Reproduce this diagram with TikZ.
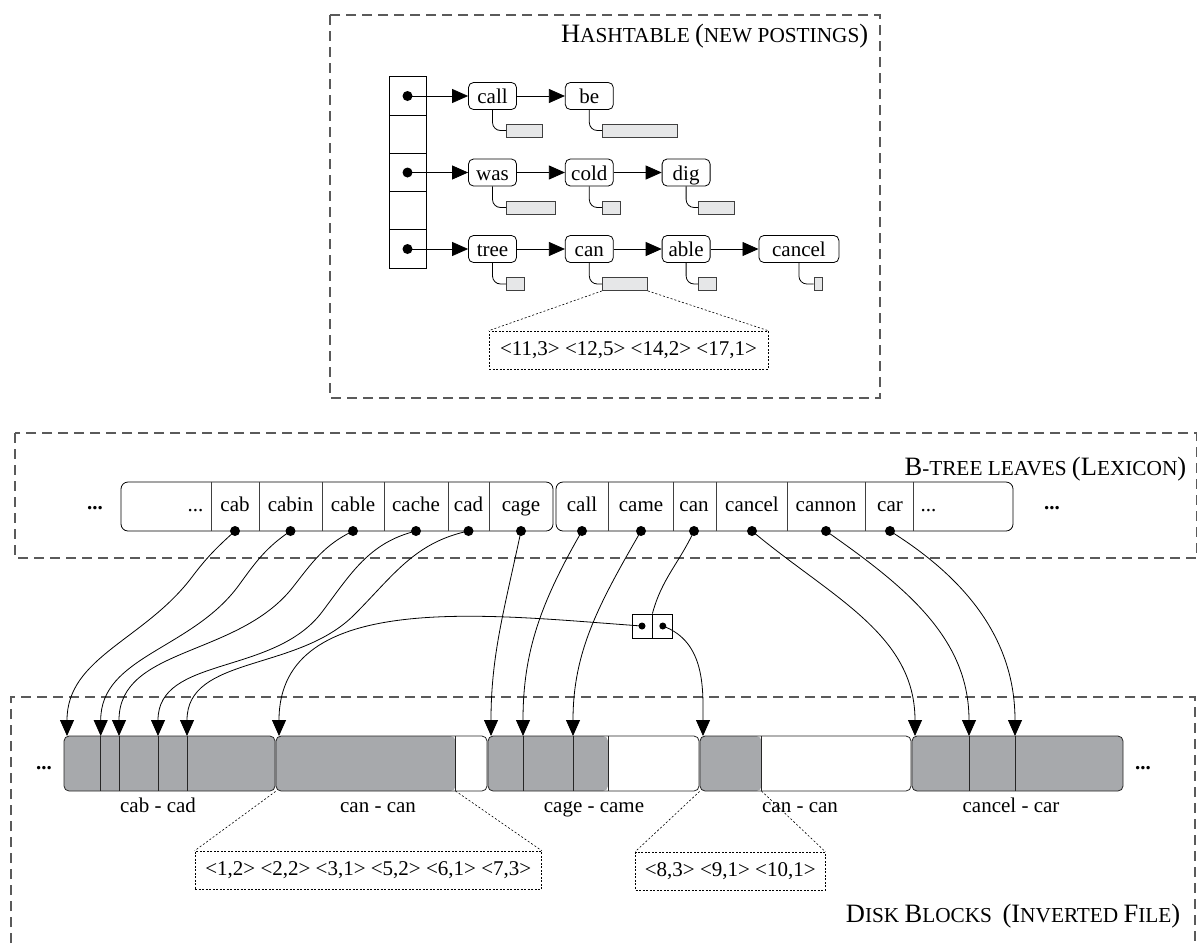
\documentclass[tikz,border=0pt]{standalone}
\usepackage{fontspec}
\setmainfont{Liberation Serif}
\usetikzlibrary{positioning,arrows.meta,calc}

\definecolor{blockgray}{RGB}{167,169,172}
\definecolor{bargray}{RGB}{230,231,232}
\definecolor{framegray}{RGB}{90,90,90}

% fake small caps for the region titles
\newcommand{\capbig}[1]{{\fontsize{26.5}{26.5}\selectfont #1}}
\newcommand{\capsmall}[1]{{\fontsize{21.3}{21.3}\selectfont #1}}

\begin{document}
\begin{tikzpicture}[
  x=1pt, y=1pt,
  font=\fontsize{21}{25}\selectfont,
  line width=0.8pt,
  region/.style={
    draw=framegray,
    line width=1.2pt,
    dash pattern=on 10pt off 6pt
  },
  word/.style={
    draw,
    rounded corners=5pt,
    fill=white,
    minimum width=48pt,
    minimum height=27pt,
    inner sep=0pt,
    text height=15pt,
    text depth=0pt
  },
  plist/.style={
    draw=black!75,
    fill=bargray,
    minimum height=13pt,
    inner sep=0pt,
    anchor=west
  },
  zoombox/.style={
    draw,
    line width=0.6pt,
    dash pattern=on 2pt off 1.5pt,
    minimum height=38pt,
    inner sep=0pt
  },
  zoomline/.style={
    line width=0.6pt,
    dash pattern=on 2pt off 2pt
  },
  dot/.style={
    circle,
    fill=black,
    inner sep=0pt,
    minimum size=10pt
  },
  cell/.style={
    draw,
    minimum width=37pt,
    minimum height=38.25pt,
    inner sep=0pt
  },
  block/.style={
    draw=black!85,
    rounded corners=5pt,
    minimum width=211pt,
    minimum height=55pt,
    inner sep=0pt,
    path picture={\fill[blockgray] (path picture bounding box.south west) rectangle ([xshift=#1]path picture bounding box.north west);}
  },
  ptr/.style={
    -{Triangle[length=16pt,width=14pt]}
  }
]
\useasboundingbox (0,0) rectangle (1198,-943);

% ---------------- hashtable ----------------
\draw[region] (330,-15) rectangle (880,-398);
\node[anchor=base east] (ht-title) at (872,-42) {\capbig{H}\capsmall{ASHTABLE} \capbig{(}\capsmall{NEW POSTINGS}\capbig{)}};

\foreach \i in {0,...,4}
  \node[cell] (h\i) at (407.5,-96-38.25*\i) {};

\node[word] (call) at (492.5,-96) {call};
\node[word, right=48pt of call] (be) {be};
\node[word] (was) at (492.5,-172.5) {was};
\node[word, right=48pt of was] (cold) {cold};
\node[word, right=48pt of cold] (dig) {dig};
\node[word] (tree) at (492.5,-249) {tree};
\node[word, right=48pt of tree] (can) {can};
\node[word, right=48pt of can] (able) {able};
\node[word, right=48pt of able, minimum width=80pt] (cancel) {cancel};

\foreach \h/\w in {h0/call, h2/was, h4/tree}{
  \node[dot] at (\h) {};
  \draw[ptr] (\h.center) -- (\w);
}
\foreach \a/\b in {call/be, was/cold, cold/dig, tree/can, can/able, able/cancel}
  \draw[ptr] (\a) -- (\b);

% postings lists
\foreach \w/\px/\py/\len in {call/506/130.5/36, be/602/130.5/75, was/506/207.5/48.5,
    cold/602/207.5/18, dig/698/207.5/35.5, tree/506/284/18, can/602/284/45,
    able/698/284/18, cancel/813.5/284/8.5}{
  \node[plist, minimum width=\len*1pt] (\w-p) at (\px,-\py) {};
  \draw[rounded corners=8pt] (\w.south) |- (\w-p.west);
}

\node[zoombox, minimum width=279pt] (can-z) at (628.5,-350) {<11,3> <12,5> <14,2> <17,1>};
\draw[zoomline] (can-p.south west) -- (can-z.north west);
\draw[zoomline] (can-p.south east) -- (can-z.north east);

% ---------------- B-tree leaves ----------------
\draw[region] (15,-433) rectangle (1196.5,-558);
\node[anchor=base east] (bt-title) at (1190,-475) {\capbig{B}-\capsmall{TREE LEAVES} \capbig{(L}\capsmall{EXICON}\capbig{)}};

\node[draw, rounded corners=7pt, minimum width=432pt, minimum height=49pt, inner sep=0pt] (leaf1) at (337,-506.5) {};
\node[draw, rounded corners=7pt, minimum width=457pt, minimum height=49pt, inner sep=0pt] (leaf2) at (784.5,-506.5) {};
\foreach \px in {211,259.5,322.5,384,448,489,608,673,716.5,787.5,865,913}
  \draw[black!75] (\px,-482) -- (\px,-531);

\node[anchor=base east] (leaf1-more) at (207,-511) {...};
\node[anchor=base west] (leaf2-more) at (917,-511) {...};
\node[anchor=base] (bt-left) at (95,-509) {\textbf{...}};
\node[anchor=base] (bt-right) at (1052,-509) {\textbf{...}};

\foreach \w/\px in {cab/235, cabin/290.5, cable/353, cache/416, cad/468.5, cage/521,
    call/582, came/641, can/694, cancel/752, cannon/826, car/890}{
  \node[anchor=base] (lex-\w) at (\px,-511) {\w};
  \node[dot] (ptr-\w) at (\px,-531) {};
}

% ---------------- disk blocks ----------------
\draw[region] (11,-943) |- (1195,-697) -- (1195,-943);
\node[anchor=base east] (db-title) at (1184,-922) {\capbig{D}\capsmall{ISK} \capbig{B}\capsmall{LOCKS}\ \ \capbig{(I}\capsmall{NVERTED} \capbig{F}\capsmall{ILE}\capbig{)}};

\node[block=211] (b1) at (169.5,-763.5) {};
\node[block=179.5] (b2) at (381.5,-763.5) {};
\node[block=120] (b3) at (593.5,-763.5) {};
\node[block=61.5] (b4) at (805.5,-763.5) {};
\node[block=211] (b5) at (1017.5,-763.5) {};
\foreach \px in {100.7,119,158,187,455.5,523,573,608,761.5,969,1015}
  \draw[black!85] (\px,-736) -- (\px,-791);

\node[anchor=base] (db-left) at (44,-769) {\textbf{...}};
\node[anchor=base] (db-right) at (1143,-769) {\textbf{...}};

\foreach \b/\px/\t in {b1/158/cab - cad, b2/378/can - can, b3/594/cage - came, b4/800/can - can, b5/1011/cancel - car}
  \node[anchor=base] (\b-label) at (\px,-812) {\t};

\coordinate (b2-end) at (455.5,-791);
\coordinate (b4-end) at (761.5,-791);
\node[zoombox, minimum width=346.5pt] (b2-z) at (368.25,-870) {<1,2> <2,2> <3,1> <5,2> <6,1> <7,3>};
\node[zoombox, minimum width=189.5pt] (b4-z) at (730.25,-871) {<8,3> <9,1> <10,1>};
\draw[zoomline] (b2.south west) -- (b2-z.north west);
\draw[zoomline] (b2-end) -- (b2-z.north east);
\draw[zoomline] (b4.south west) -- (b4-z.north west);
\draw[zoomline] (b4-end) -- (b4-z.north east);

% ---------------- pointers from the leaves ----------------
% wavy ones into the first block
\foreach \w/\px/\mx/\my/\sang/\mang in {cab/67/192/577/-138/-127, cabin/100.7/239/585/-146/-126,
    cable/119/293/587/-154/-128, cache/158/322/612/-166/-127, cad/187/354/615/-168/-135}{
  \pgfmathsetmacro\inang{\mang+180}
  \coordinate (in-\w) at (\px,-736);
  \coordinate (mid-\w) at (\mx,-\my);
  \draw[ptr] (ptr-\w.center) to[out=\sang, in=\inang] (mid-\w) to[out=\mang, in=90] (in-\w);
}
\foreach \w/\px/\ang in {cage/491/-102, call/523/-120, came/573/-120,
    cancel/915/-40, cannon/969/-35, car/1015/-32}{
  \coordinate (in-\w) at (\px,-736);
  \draw[ptr] (ptr-\w.center) to[out=\ang, in=90] (in-\w);
}

% the two-cell pointer pair for "can"
\node[draw, minimum width=20pt, minimum height=24pt, inner sep=0pt] (pair-l) at (642,-626) {};
\node[draw, minimum width=20pt, minimum height=24pt, inner sep=0pt, right=0pt of pair-l] (pair-r) {};
\node[dot, minimum size=7pt] at (pair-l) {};
\node[dot, minimum size=7pt] at (pair-r) {};
\coordinate (in-b2) at (279,-736);
\coordinate (in-b4) at (703,-736);
\draw (ptr-can.center) to[out=-115, in=75] (pair-l.north east);
\draw[ptr] (pair-l.center) to[out=176, in=90] (in-b2);
\draw[ptr] (pair-r.center) to[out=-20, in=90] (in-b4);

\end{tikzpicture}
\end{document}
